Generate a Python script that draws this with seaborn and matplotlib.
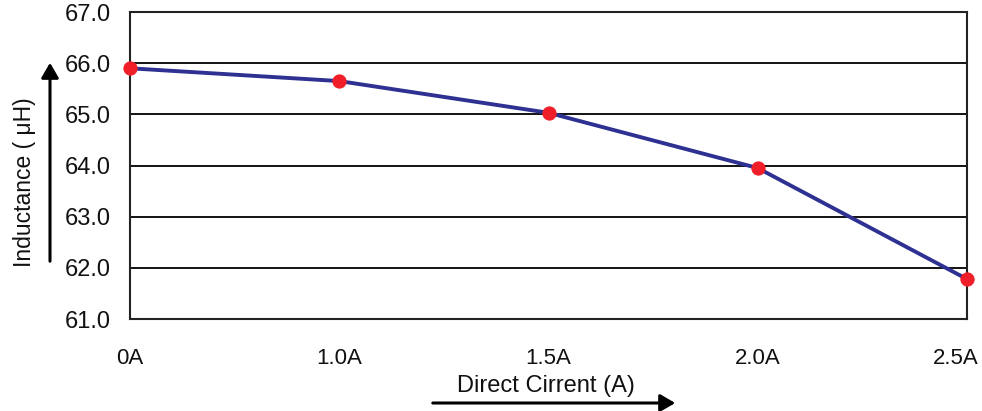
import matplotlib
matplotlib.use("Agg")
import matplotlib.pyplot as plt
import seaborn as sns
import pandas as pd
from matplotlib.ticker import FormatStrFormatter
from matplotlib.transforms import ScaledTranslation

categories = ["0A", "1.0A", "1.5A", "2.0A", "2.5A"]
inductance = [65.9, 65.65, 65.03, 63.95, 61.78]
y_ticks = [61, 62, 63, 64, 65, 66, 67]

df = pd.DataFrame({"current": categories, "L": inductance})

sns.set_style("white")
plt.rcParams["font.family"] = ["Liberation Sans", "DejaVu Sans"]

fig = plt.figure(figsize=(9.82, 4.11), dpi=100)
ax = fig.add_axes([130/982, 92/411, 837/982, 307/411])

sns.lineplot(data=df, x="current", y="L", ax=ax, color="#2E3192", linewidth=2.8,
             marker="o", markersize=9.5, markerfacecolor="#F01E28", markeredgecolor="#F01E28",
             zorder=5, clip_on=False)

ax.set_xlim(0, len(categories) - 1)
ax.set_ylim(61, 67)
ax.set_yticks(y_ticks)
ax.yaxis.set_major_formatter(FormatStrFormatter("%.1f"))
ax.grid(axis="y", color="black", linewidth=1.3)
ax.grid(axis="x", visible=False)
for s in ax.spines.values():
    s.set_color("#222222")
    s.set_linewidth(1.5)

ax.tick_params(axis="x", direction="in", length=6, width=1.2, color="#222222",
               labelsize=16, pad=21)
ax.tick_params(axis="y", length=0, labelsize=17, pad=14)
for lbl in ax.get_xticklabels():
    lbl.set_color("#111111")
for lbl in ax.get_yticklabels():
    lbl.set_color("#111111")
# shift last x tick label left so it stays inside the figure
last = ax.get_xticklabels()[-1]
last.set_transform(last.get_transform() + ScaledTranslation(-11/100, 0, fig.dpi_scale_trans))
ax.set_xlabel("")
ax.set_ylabel("")

fig.text(25/982, 1 - 182/411, "Inductance ( μH)", rotation=90, ha="center", va="center",
         fontsize=16.5, color="#111111")
fig.text(546/982, 1 - 386/411, "Direct Cirrent (A)", ha="center", va="center",
         fontsize=17, color="#111111")

fig.add_artist(matplotlib.patches.FancyArrowPatch(
    (50/982, 1 - 264/411), (50/982, 1 - 60/411), transform=fig.transFigure,
    arrowstyle="-|>,head_length=6,head_width=3.5", color="black", linewidth=2.2,
    mutation_scale=1.5))
fig.add_artist(matplotlib.patches.FancyArrowPatch(
    (430/982, 1 - 403/411), (678/982, 1 - 403/411), transform=fig.transFigure,
    arrowstyle="-|>,head_length=6,head_width=3.5", color="black", linewidth=2.2,
    mutation_scale=1.5))

fig.savefig("out.png", dpi=100)
